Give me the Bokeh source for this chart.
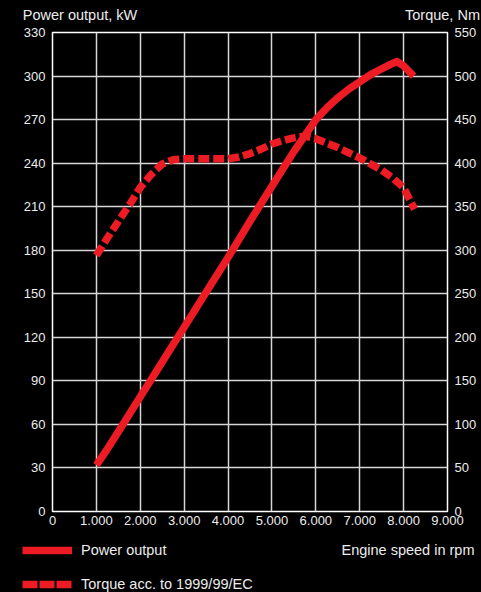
from bokeh.plotting import figure
from bokeh.models import Range1d, LinearAxis, FixedTicker, Legend, LegendItem, Label
from bokeh.layouts import column
from bokeh.embed import file_html
from bokeh.resources import INLINE

# ---- data ----
power_rpm = [1000, 1250, 1500, 1750, 2000, 2250, 2500, 2750, 3000, 3500, 4000, 4500,
             5000, 5500, 6000, 6250, 6500, 6750, 7000, 7250, 7500, 7700, 7850, 8000, 8230]
power_kw = [32, 43, 55, 67, 79, 91, 103, 115, 127, 151, 175, 200,
            224, 248, 270, 278, 285, 291, 296, 301, 305, 308, 310, 307, 300]

torque_rpm = [1000, 1250, 1500, 1750, 2000, 2250, 2500, 2750, 3000, 3500, 4000, 4250,
              4500, 4750, 5000, 5250, 5500, 5750, 6000, 6500, 7000, 7500, 7750, 8000, 8250]
torque_nm = [294, 314, 333, 352, 372, 387, 399, 404, 405, 405, 405, 407,
             411, 416, 422, 426, 429, 431, 428, 418, 406, 392, 383, 372, 347]

x_ticks = [0, 1000, 2000, 3000, 4000, 5000, 6000, 7000, 8000, 9000]
x_tick_labels = ["0", "1.000", "2.000", "3.000", "4.000", "5.000", "6.000", "7.000", "8.000", "9.000"]
kw_ticks = [0, 30, 60, 90, 120, 150, 180, 210, 240, 270, 300, 330]
nm_ticks = [0, 50, 100, 150, 200, 250, 300, 350, 400, 450, 500, 550]

series_names = ["Power output", "Torque acc. to 1999/99/EC"]
axis_titles = ["Power output, kW", "Torque, Nm"]
x_title = "Engine speed in rpm"

# ---- styling / layout ----
RED = "#ed1c24"
TXT = "#ececec"
GRID = "#d6d6d6"
FONT = "Liberation Sans"
FS = "13px"      # tick labels
FS2 = "14.5px"   # titles and legend

W = 481
H1, H2 = 532, 60          # chart figure + legend strip
FL, FR, FT, FB = 52, 447, 32, 511
XMAX, YMAX, TMAX = 9000, 330, 550
NAN = float("nan")
BLACK_BG = {"background-color": "black"}

def dx(px):
    return (px - FL) / (FR - FL) * XMAX

p1 = figure(width=W, height=H1, x_range=Range1d(0, XMAX), y_range=Range1d(0, YMAX),
            output_backend="svg", toolbar_location=None,
            min_border_left=FL, min_border_right=W - FR,
            min_border_top=FT, min_border_bottom=H1 - FB,
            background_fill_color="black", border_fill_color="black",
            outline_line_color="white", outline_line_width=1.5)
p1.extra_y_ranges = {"torque": Range1d(0, TMAX)}

xa = p1.below[0]
ya = p1.left[0]
right = LinearAxis(y_range_name="torque")
p1.add_layout(right, "right")
top = LinearAxis()
p1.add_layout(top, "above")

def style_axis(ax, standoff, size=FS):
    ax.axis_line_color = None
    ax.major_tick_line_color = None
    ax.minor_tick_line_color = None
    ax.major_tick_out = 0
    ax.major_tick_in = 0
    ax.minor_tick_out = 0
    ax.minor_tick_in = 0
    ax.major_label_text_color = TXT
    ax.major_label_text_font = FONT
    ax.major_label_text_font_size = size
    ax.major_label_standoff = standoff

xa.ticker = FixedTicker(ticks=x_ticks)
xa.major_label_overrides = {t: l for t, l in zip(x_ticks, x_tick_labels)}
style_axis(xa, 4)

ya.ticker = FixedTicker(ticks=kw_ticks)
style_axis(ya, 7)

right.ticker = FixedTicker(ticks=nm_ticks)
style_axis(right, 7)

# top axis carries the two axis titles at their screen positions
title_pos = [dx(79.5), dx(442)]
top.ticker = FixedTicker(ticks=title_pos)
top.major_label_overrides = {t: l for t, l in zip(title_pos, axis_titles)}
style_axis(top, 10, FS2)

p1.xgrid.ticker = FixedTicker(ticks=x_ticks)
p1.ygrid.ticker = FixedTicker(ticks=kw_ticks)
for g in (p1.xgrid[0], p1.ygrid[0]):
    g.grid_line_color = GRID
    g.grid_line_width = 1.5

p1.line(power_rpm, power_kw, line_color=RED, line_width=7.5,
        line_join="round", line_cap="butt")
p1.line(torque_rpm, torque_nm, y_range_name="torque", line_color=RED, line_width=7.5,
        line_dash="11 4", line_join="round", line_cap="butt")

# ---- legend strip ----
p2 = figure(width=W, height=H2, x_range=Range1d(0, W), y_range=Range1d(0, H2),
            output_backend="svg", toolbar_location=None,
            min_border=0, min_border_left=0, min_border_right=0,
            min_border_top=0, min_border_bottom=0,
            background_fill_color="black", border_fill_color="black",
            outline_line_color=None)
p2.xaxis.visible = False
p2.yaxis.visible = False
p2.grid.visible = False
for fig in (p1, p2):
    if "frame_align" in fig.properties():
        fig.frame_align = False
    fig.styles = BLACK_BG

# legend sample renderers (no visible data, only for the legend glyphs)
lp = p2.line([NAN], [NAN], line_color=RED, line_width=7.5)
lt = p2.line([NAN], [NAN], line_color=RED, line_width=7.5, line_dash="15 2")

legend = Legend(items=[LegendItem(label=series_names[0], renderers=[lp]),
                       LegendItem(label=series_names[1], renderers=[lt])],
                location=(22, -1), orientation="vertical",
                glyph_width=50, glyph_height=18, label_height=18,
                label_standoff=9, spacing=16, padding=0, margin=0,
                background_fill_alpha=0, border_line_color=None,
                label_text_color=TXT, label_text_font=FONT, label_text_font_size=FS2)
p2.add_layout(legend)

p2.add_layout(Label(x=474, y=H2 - 17, text=x_title, text_align="right",
                    text_baseline="middle", text_color=TXT,
                    text_font=FONT, text_font_size=FS2))

p = column(p1, p2, spacing=0, styles=BLACK_BG)

open("out.html", "w").write(file_html(p, INLINE))
